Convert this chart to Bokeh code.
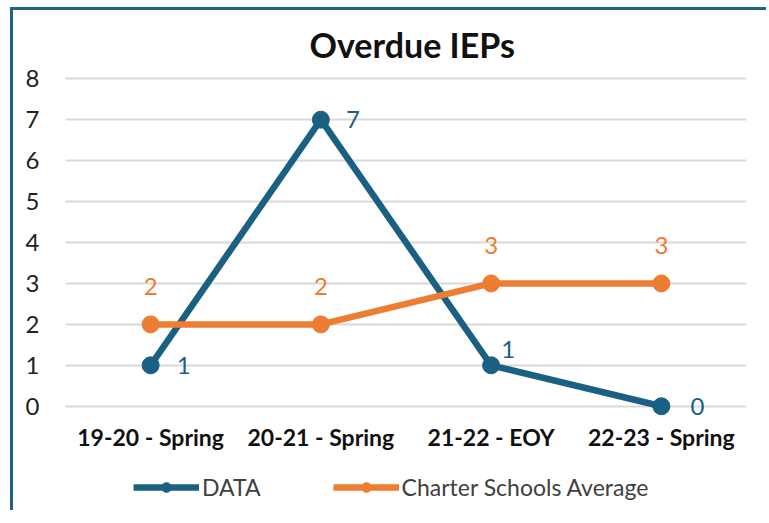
from bokeh.plotting import figure
from bokeh.layouts import column
from bokeh.models import Range1d, Legend, LegendItem, ColumnDataSource, FactorRange
from bokeh.core.properties import value
from bokeh.embed import file_html
from bokeh.resources import INLINE

categories = ["19-20 - Spring", "20-21 - Spring", "21-22 - EOY", "22-23 - Spring"]
data_values = [1, 7, 1, 0]
charter_values = [2, 2, 3, 3]
y_ticks = [0, 1, 2, 3, 4, 5, 6, 7, 8]
series_names = ["DATA", "Charter Schools Average"]

BLUE = "#1A6082"
ORANGE = "#ED7D31"
FONT = "Lato"

# label style offsets (pixels)
data_lbl_dx = [33, 32, 17, 36]
data_lbl_dy = [0, 0, -16, 0]
ch_lbl_dx = [0, 0, 0, 0]
ch_lbl_dy = [-38, -38, -38, -38]

W = 753

p = figure(
    x_range=FactorRange(*categories, range_padding=0),
    y_range=Range1d(-0.25, 8.25),
    frame_width=681, frame_height=348,
    output_backend="svg", toolbar_location=None,
    min_border_left=52, min_border_right=20, min_border_top=58, min_border_bottom=44,
)
p.outline_line_color = None
p.background_fill_color = "white"
p.border_fill_color = "white"

p.title.text = "Overdue IEPs"
p.title.align = "left"
p.title.offset = 244
p.title.text_font = FONT
p.title.text_font_size = "34px"
p.title.text_font_style = "bold"
p.title.text_color = "#111111"
p.title.standoff = 8

p.xgrid.grid_line_color = None
p.ygrid.grid_line_color = "#D9D9D9"
p.ygrid.grid_line_width = 2
p.yaxis.ticker = y_ticks

for ax in (p.xaxis[0], p.yaxis[0]):
    ax.axis_line_color = None
    ax.major_tick_line_color = None
    ax.minor_tick_line_color = None
    ax.major_tick_out = 0
    ax.major_tick_in = 0
    ax.minor_tick_out = 0

p.yaxis.major_label_text_font = FONT
p.yaxis.major_label_text_font_size = "24px"
p.yaxis.major_label_text_color = "#222222"
p.yaxis.major_label_standoff = 26

p.xaxis.major_label_text_font = FONT
p.xaxis.major_label_text_font_size = "23px"
p.xaxis.major_label_text_font_style = "bold"
p.xaxis.major_label_text_color = "#111111"
p.xaxis.major_label_standoff = 6

src_d = ColumnDataSource(dict(x=categories, y=data_values, lbl=[str(v) for v in data_values],
                              dx=data_lbl_dx, dy=data_lbl_dy))
src_c = ColumnDataSource(dict(x=categories, y=charter_values, lbl=[str(v) for v in charter_values],
                              dx=ch_lbl_dx, dy=ch_lbl_dy))

p.line("x", "y", source=src_d, line_color=BLUE, line_width=6.5)
p.scatter("x", "y", source=src_d, size=17, fill_color=BLUE, line_color=BLUE)
p.line("x", "y", source=src_c, line_color=ORANGE, line_width=6.5)
p.scatter("x", "y", source=src_c, size=17, fill_color=ORANGE, line_color=ORANGE)

p.text("x", "y", text="lbl", source=src_d, x_offset="dx", y_offset="dy",
       text_font=value(FONT), text_font_size="24px", text_color=BLUE,
       text_align="center", text_baseline="middle")
p.text("x", "y", text="lbl", source=src_c, x_offset="dx", y_offset="dy",
       text_font=value(FONT), text_font_size="24px", text_color=ORANGE,
       text_align="center", text_baseline="middle")

# legend strip below the chart (swatch renderers carry no visible points)
lf = figure(width=W, height=50, x_range=Range1d(0, 1), y_range=Range1d(0, 1),
            x_axis_type=None, y_axis_type=None, output_backend="svg",
            toolbar_location=None, min_border=0)
lf.outline_line_color = None
lf.xgrid.grid_line_color = None
lf.ygrid.grid_line_color = None
lf.border_fill_color = "white"

nan = float("nan")
swatch_d = ColumnDataSource(dict(x=[nan], y=[nan]))
swatch_c = ColumnDataSource(dict(x=[nan], y=[nan]))
ll1 = lf.line("x", "y", source=swatch_d, line_color=BLUE, line_width=6.5)
ls1 = lf.scatter("x", "y", source=swatch_d, size=13, fill_color=BLUE, line_color=BLUE)
ll2 = lf.line("x", "y", source=swatch_c, line_color=ORANGE, line_width=6.5)
ls2 = lf.scatter("x", "y", source=swatch_c, size=13, fill_color=ORANGE, line_color=ORANGE)

legend = Legend(
    items=[LegendItem(label=series_names[0], renderers=[ll1, ls1]),
           LegendItem(label=series_names[1], renderers=[ll2, ls2])],
    orientation="horizontal", location=(68, 9),
    glyph_width=66, glyph_height=24, label_height=24, label_standoff=3, spacing=72,
    label_text_font=FONT, label_text_font_size="23px", label_text_color="#404040",
    border_line_color=None, background_fill_alpha=0, padding=0, margin=0,
)
lf.add_layout(legend, "center")

layout = column(p, lf, spacing=0,
                styles={"border-left": "3px solid #1F6287", "border-top": "3px solid #1F6287",
                        "margin-left": "10px", "margin-top": "7px"})

open("out.html", "w").write(file_html(layout, INLINE))
